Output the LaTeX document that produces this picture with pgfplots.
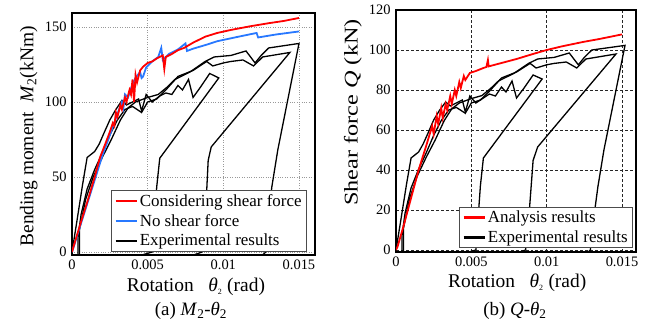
\documentclass[border=0pt]{standalone}
\usepackage{pgfplots}
\pgfplotsset{compat=1.18}
\usepackage{fontspec}
\usepackage{graphicx}
\setmainfont{Liberation Serif}
\newcommand{\tkf}{\rmfamily\fontsize{14.5}{16}\selectfont}
\newcommand{\lbf}{\rmfamily\fontsize{19.5}{21}\selectfont}
\newcommand{\lgf}{\rmfamily\fontsize{17}{19}\selectfont}
\newcommand{\cpf}{\rmfamily\fontsize{19}{21}\selectfont}
\begin{document}
\begin{tikzpicture}[x=1bp,y=1bp]
\useasboundingbox (0,0) rectangle (660,326);
\pgfplotsset{
  myax/.style={
    scale only axis,
    axis line style={line width=2.6bp},
    tick style={draw=none},
    major tick length=0pt,
    grid=major,
    scaled x ticks=false, scaled y ticks=false,
    xtick={0,0.005,0.01,0.015},
    xticklabels={0,0.005,0.01,0.015},
    tick label style={font=\tkf},
    /pgf/number format/assume math mode=true,
    xticklabel style={yshift=-1bp},
    yticklabel style={xshift=-2bp},
    legend cell align=left,
    legend image code/.code={\draw[#1] (0bp,0bp) -- (21bp,0bp);},
    legend style={font=\lgf, draw=black!70, line width=0.8bp, fill=white, inner xsep=3bp, inner ysep=1.5bp, row sep=2.5bp, nodes={inner sep=2bp}},
  },
  exp/.style={black, line width=1.3bp, forget plot},
}
% ---------------- (a) ----------------
\begin{axis}[myax,
  at={(72bp,71bp)}, anchor=south west,
  width=243bp, height=242bp,
  xmin=0, xmax=0.01606, ymin=-2, ymax=159.3,
  ytick={0,50,100,150},
  yticklabels={0,50,100,150},
  grid style={gray!80, dotted, line width=0.9bp},
  xlabel={\lbf Rotation\hspace{0.75em}\textit{θ}\textsubscript{\fontsize{8}{9}\selectfont 2} (rad)},
  xlabel style={at={(axis description cs:0.51,-0.13)}, anchor=center},
  ylabel={\rmfamily\fontsize{19.5}{21}\selectfont Bending moment\ \ \textit{M}\textsubscript{2}(kNm)},
  ylabel style={at={(axis description cs:-0.178,0.49)}, anchor=center},
  legend style={at={(rel axis cs:0.967,0.015)}, anchor=south east},
]
\addplot[exp] coordinates {(0,0) (0.0003,19) (0.0007,45) (0.001,63) (0.0015,67) (0.0018,72) (0.0021,79) (0.0025,88) (0.0029,95) (0.0033,101) (0.0036,98) (0.004,100) (0.0044,102) (0.0046,94) (0.0049,105) (0.0053,100) (0.0058,104) (0.0062,106) (0.0066,105) (0.007,111) (0.0073,108) (0.0077,115) (0.008,103) (0.0085,110) (0.0091,119) (0.0097,116) (0.0058,62.5) (0.0056,43.5) (0.0053,0) (0.0036,-5)};
\addplot[exp] coordinates {(0.0004,-3) (0.0004,10) (0.0006,25) (0.001,42) (0.0015,55) (0.002,66) (0.0025,78) (0.003,88) (0.0035,95) (0.004,97) (0.0046,93) (0.005,100) (0.0056,102) (0.0062,108) (0.007,117) (0.0075,119) (0.008,121) (0.0089,127) (0.0093,124) (0.01,126) (0.0105,127) (0.0113,128) (0.012,124) (0.0126,130) (0.0144,133) (0.0092,70) (0.009,61) (0.0088,20) (0.0086,0) (0.0072,-5)};
\addplot[exp] coordinates {(0.0005,-2) (0.0005,15) (0.0009,35) (0.0014,50) (0.002,63) (0.0026,75) (0.0032,88) (0.0037,96) (0.0042,100) (0.005,103) (0.0057,105) (0.0063,110) (0.0068,115) (0.0072,117) (0.0078,120) (0.0088,127) (0.0094,130) (0.0105,131) (0.0115,134) (0.0121,126) (0.0125,131) (0.013,136) (0.015,139) (0.0136,68) (0.0132,43) (0.013,20) (0.0128,0) (0.0125,-3)};
\addplot[color={rgb,255:red,40;green,120;blue,255}, line width=1.8bp, forget plot] coordinates {(0,0) (0.0001,3) (0.0005,16) (0.001,32) (0.0015,48) (0.002,64) (0.0024,75) (0.0027,83.5) (0.003,92) (0.0033,100) (0.0034,96) (0.0035,105) (0.0037,103) (0.004,112) (0.0042,116) (0.0045,120) (0.0046,116) (0.0047,117) (0.0049,123) (0.0053,127) (0.0057,130) (0.0059,136) (0.006,128) (0.0064,132) (0.007,135) (0.0075,139) (0.0076,134) (0.008,135.5) (0.009,138.5) (0.0096,140.5) (0.011,143.5) (0.0122,146) (0.0123,143) (0.0135,145) (0.015,147)};
\addplot[red, line width=1.8bp, forget plot] coordinates {(0,0) (0.0001,3.5) (0.0005,17) (0.001,33) (0.0015,50) (0.00185,63) (0.0022,72) (0.0025,80) (0.0027,86) (0.0028,84) (0.0029,93) (0.003,90) (0.0032,98) (0.0033,95) (0.0035,103) (0.0036,100) (0.0038,108) (0.0039,105) (0.004,115) (0.0041,100) (0.0042,118) (0.0043,113) (0.0045,121) (0.0047,123.5) (0.005,126) (0.0053,127) (0.0056,129) (0.006,131) (0.0061,122) (0.0062,130) (0.0066,132) (0.007,134.5) (0.0074,136) (0.008,139.5) (0.0088,143.5) (0.0096,146) (0.0105,148) (0.0118,150.5) (0.013,152.5) (0.014,154) (0.015,156)};
\addlegendimage{red, line width=2.6bp}
\addlegendentry{Considering shear force}
\addlegendimage{color={rgb,255:red,40;green,120;blue,255}, line width=2.6bp}
\addlegendentry{No shear force}
\addlegendimage{black, line width=2.6bp}
\addlegendentry{Experimental results}
\end{axis}
\node[font=\cpf] at (191,15) {(a) \textit{M}\textsubscript{2}-\textit{θ}\textsubscript{2}};
% ---------------- (b) ----------------
\begin{axis}[myax,
  at={(396bp,74bp)}, anchor=south west,
  width=240bp, height=242bp,
  xmin=0, xmax=0.01593, ymin=-1, ymax=120,
  ytick={0,20,40,60,80,100,120},
  yticklabels={0,20,40,60,80,100,120},
  grid style={black!85, densely dashed, line width=0.7bp},
  xlabel={\lbf Rotation\hspace{0.75em}\textit{θ}\textsubscript{\fontsize{8}{9}\selectfont 2} (rad)},
  xlabel style={at={(axis description cs:0.505,-0.128)}, anchor=center},
  ylabel={\scalebox{1.25}[1]{\rmfamily\fontsize{19.5}{21}\selectfont Shear force \textit{Q} (kN)}},
  ylabel style={at={(axis description cs:-0.18,0.576)}, anchor=center},
  legend style={at={(rel axis cs:0.9875,0.0165)}, anchor=south east},
]
\addplot[exp] coordinates {(0,0) (0.0003,14) (0.0007,33) (0.001,46) (0.0015,49) (0.0018,53) (0.0021,58) (0.0025,65) (0.0029,70) (0.0033,74) (0.0036,72) (0.004,73.5) (0.0044,75) (0.0046,69) (0.0049,77) (0.0053,73.5) (0.0058,76) (0.0062,78) (0.0066,77) (0.007,81.5) (0.0073,79) (0.0077,84.5) (0.008,76) (0.0085,81) (0.0091,87.5) (0.0097,85.5) (0.0058,46) (0.0056,32) (0.0053,0) (0.0036,-3.7)};
\addplot[exp] coordinates {(0.0004,-2.2) (0.0004,7.4) (0.0006,18.4) (0.001,31) (0.0015,40.4) (0.002,48.5) (0.0025,57.3) (0.003,64.7) (0.0035,70) (0.004,71.3) (0.0046,68.4) (0.005,73.5) (0.0056,75) (0.0062,79.4) (0.007,86) (0.0075,87.5) (0.008,89) (0.0089,93.3) (0.0093,91) (0.01,92.6) (0.0105,93.3) (0.0113,94) (0.012,91) (0.0126,95.5) (0.0146,98) (0.0094,51.5) (0.0091,44.8) (0.0088,14.7) (0.0086,0) (0.0072,-3.7)};
\addplot[exp] coordinates {(0.0005,-1.5) (0.0005,11) (0.0009,25.7) (0.0014,36.8) (0.002,46.3) (0.0026,55) (0.0032,64.7) (0.0037,70.6) (0.0042,73.5) (0.005,75.7) (0.0057,77.2) (0.0063,80.9) (0.0068,84.5) (0.0072,86) (0.0078,88.2) (0.0088,93.3) (0.0094,95.5) (0.0105,96.3) (0.0115,98.5) (0.0121,92.6) (0.0125,96.3) (0.013,100) (0.0152,102.3) (0.0138,50) (0.0134,31.6) (0.0131,14.7) (0.0129,0) (0.0126,-2.2)};
\addplot[red, line width=1.8bp, forget plot] coordinates {(0,0) (0.0001,1.6) (0.0005,12) (0.001,26) (0.0015,40) (0.002,52) (0.0022,57) (0.0024,62) (0.0025,58) (0.0027,67) (0.0028,63) (0.003,71) (0.0031,66) (0.0033,73) (0.0034,70) (0.0036,77) (0.0037,73) (0.0039,80) (0.004,77) (0.0042,84) (0.0043,81) (0.0045,87) (0.0046,85) (0.0049,88.5) (0.0053,89.5) (0.0058,91) (0.006,91.5) (0.0061,95) (0.00615,91.8) (0.007,93.5) (0.008,95.5) (0.009,97.8) (0.01,100) (0.011,101.8) (0.0124,104) (0.0135,105.5) (0.015,107.8)};
\addlegendimage{red, line width=2.6bp}
\addlegendentry{Analysis results}
\addlegendimage{black, line width=2.6bp}
\addlegendentry{Experimental results}
\end{axis}
\node[font=\cpf] at (515,15) {(b) \textit{Q}-\textit{θ}\textsubscript{2}};
\end{tikzpicture}
\end{document}
